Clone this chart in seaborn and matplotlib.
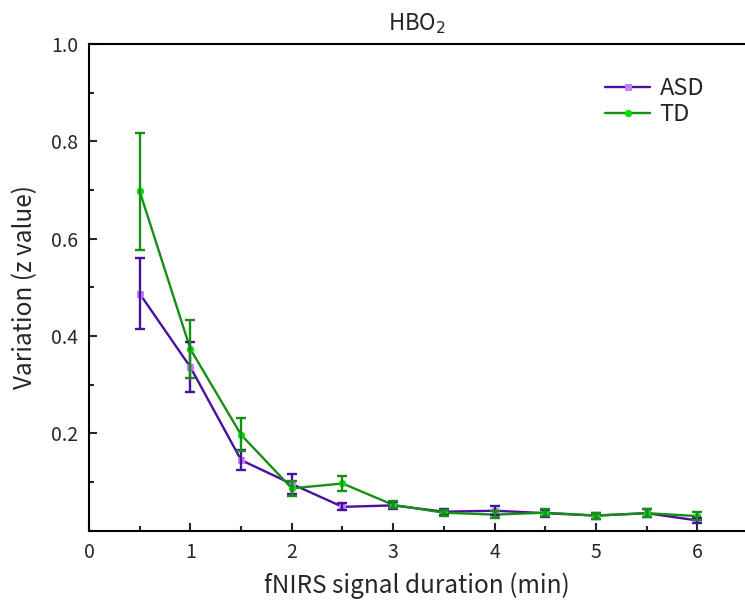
import numpy as np
import pandas as pd
import matplotlib
matplotlib.use("Agg")
import matplotlib.pyplot as plt
import seaborn as sns
from matplotlib.ticker import MultipleLocator

# values
duration = [0.5, 1.0, 1.5, 2.0, 2.5, 3.0, 3.5, 4.0, 4.5, 5.0, 5.5, 6.0]
asd_mean = [0.487, 0.336, 0.145, 0.096, 0.049, 0.052, 0.039, 0.041, 0.036, 0.031, 0.036, 0.021]
asd_err = [0.073, 0.051, 0.020, 0.020, 0.007, 0.007, 0.006, 0.009, 0.007, 0.006, 0.008, 0.006]
td_mean = [0.697, 0.373, 0.197, 0.087, 0.097, 0.053, 0.037, 0.033, 0.037, 0.031, 0.036, 0.030]
td_err = [0.120, 0.060, 0.034, 0.016, 0.015, 0.007, 0.006, 0.007, 0.007, 0.006, 0.008, 0.008]

groups = ["ASD", "TD"]
line_colors = {"ASD": "#4a0fa0", "TD": "#159015"}
marker_colors = {"ASD": "#c080ff", "TD": "#00e000"}
markers = {"ASD": "s", "TD": "o"}

df = pd.DataFrame({
    "duration": duration * 2,
    "value": asd_mean + td_mean,
    "err": asd_err + td_err,
    "group": ["ASD"] * len(duration) + ["TD"] * len(duration),
})

sns.set_style("ticks")
plt.rcParams["font.family"] = ["Noto Sans CJK SC", "DejaVu Sans"]

fig = plt.figure(figsize=(7.45, 6.01), dpi=100)
ax = fig.add_axes([0.1195, 0.117, 0.8805, 0.8098])

sns.lineplot(data=df, x="duration", y="value", hue="group", style="group",
             palette=line_colors, markers=markers, dashes=False, linewidth=1.7,
             markersize=4.5, legend=False, ax=ax)

for line, g in zip(ax.lines, groups):
    line.set_markerfacecolor(marker_colors[g])
    line.set_markeredgecolor(marker_colors[g])

for g in groups:
    sub = df[df["group"] == g]
    ax.errorbar(sub["duration"], sub["value"], yerr=sub["err"], fmt="none",
                ecolor=line_colors[g], elinewidth=1.7, capsize=3.8,
                capthick=1.7, zorder=3)

ax.legend(handles=ax.lines[:2], labels=groups, frameon=False, fontsize=17,
          loc="upper right", bbox_to_anchor=(0.97, 0.975), handlelength=1.9,
          labelspacing=0.1, handletextpad=0.4)

ax.set_xlim(0, 6.47)
ax.set_ylim(0, 1.0)
ax.xaxis.set_major_locator(MultipleLocator(1))
ax.xaxis.set_minor_locator(MultipleLocator(0.5))
ax.yaxis.set_major_locator(MultipleLocator(0.2))
ax.yaxis.set_minor_locator(MultipleLocator(0.1))
ax.set_yticks([0.2, 0.4, 0.6, 0.8, 1.0])
ax.set_yticklabels(["0.2", "0.4", "0.6", "0.8", "1.0"])
ax.tick_params(which="major", direction="in", length=6, width=1.5, labelsize=14,
               top=False, right=False, pad=8)
ax.tick_params(which="minor", direction="in", length=3.5, width=1.5,
               top=False, right=False)

for side in ["left", "bottom", "top"]:
    ax.spines[side].set_linewidth(1.5)
    ax.spines[side].set_color("black")
ax.spines["right"].set_visible(False)

ax.set_xlabel("fNIRS signal duration (min)", fontsize=17.5, labelpad=7)
ax.set_ylabel("Variation (z value)", fontsize=17.5, labelpad=9)
ax.set_title("HBO$_2$", fontsize=16, pad=10)

fig.savefig("out.png", dpi=100)
